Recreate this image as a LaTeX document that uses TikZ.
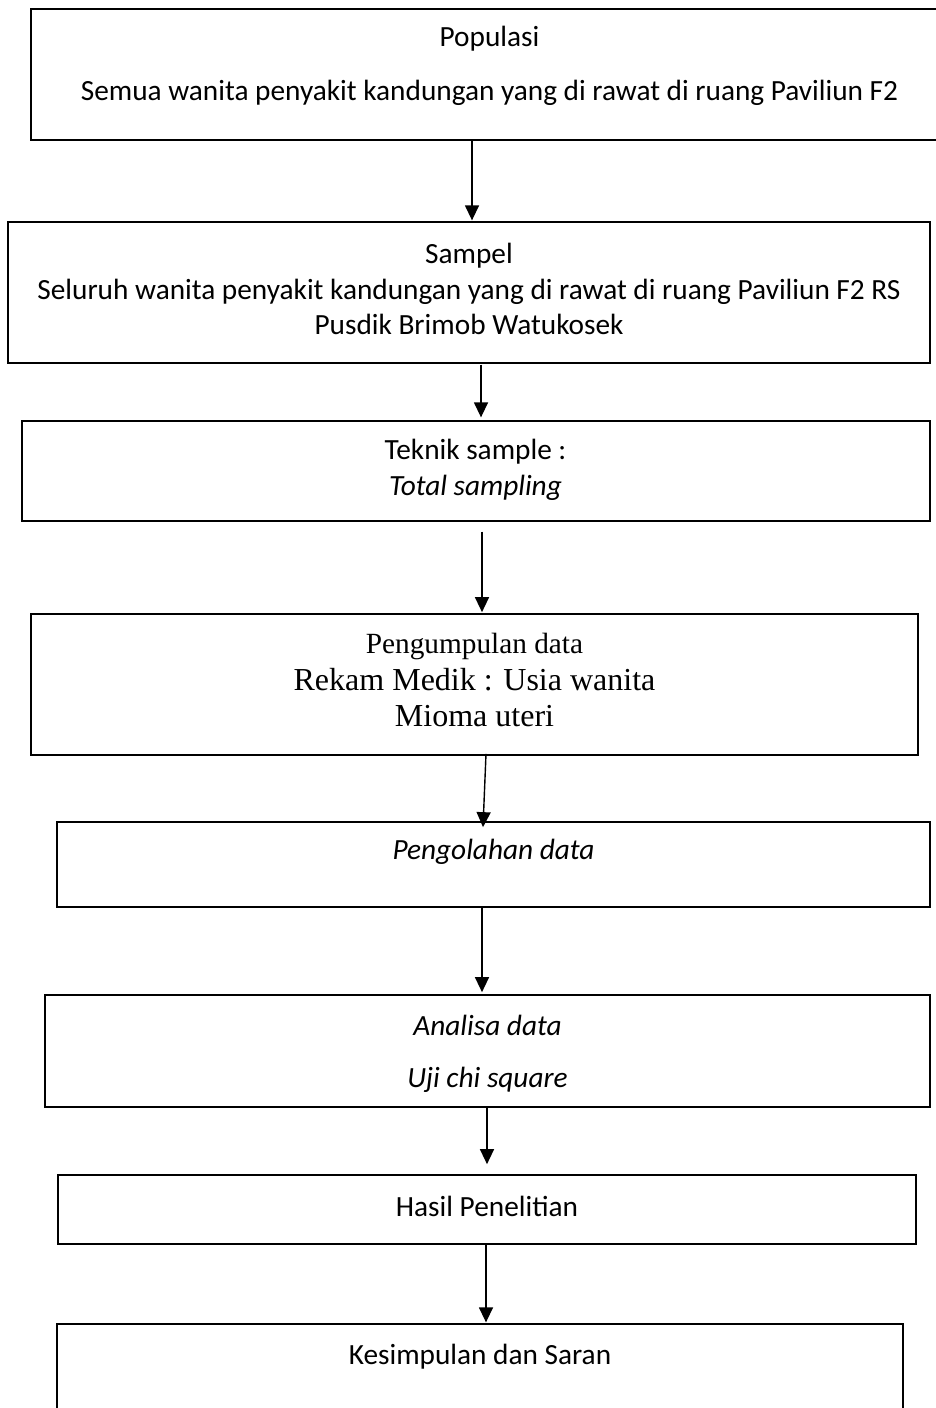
\documentclass[tikz,border=0pt]{standalone}
\usepackage{fontspec}
\setmainfont{Carlito}
\newfontfamily\tnr{Liberation Serif}
\usetikzlibrary{arrows.meta, calc}

\begin{document}
\begin{tikzpicture}[x=1pt,y=-1pt,
  box/.style={draw,line width=1.7pt,inner sep=0pt},
  txt/.style={align=center,inner sep=0pt,font=\fontsize{29.3}{35.7}\selectfont},
  arr/.style={line width=1.4pt,-{Triangle[length=15pt,width=14pt]}}]
  \useasboundingbox (0,0) rectangle (936,1408);
  % boxes
  \node[box,minimum width=917pt,minimum height=131pt] (pop) at (489.5,74.5) {};
  \node[box,line width=1.3pt,minimum width=922pt,minimum height=141pt] (samp) at (469,292.5) {};
  \node[box,line width=1.3pt,minimum width=908pt,minimum height=100pt] (tek) at (476,471) {};
  \node[box,minimum width=887pt,minimum height=141pt] (kum) at (474.5,684.5) {};
  \node[box,minimum width=873pt,minimum height=85pt] (olah) at (493.5,864.5) {};
  \node[box,minimum width=885pt,minimum height=112pt] (ana) at (487.5,1051) {};
  \node[box,minimum width=858pt,minimum height=69pt] (has) at (487,1209.5) {};
  \node[box,line width=1.3pt,minimum width=846pt,minimum height=120pt] (sim) at (480,1384) {};
  % texts
  \node[txt] (popA) at (489.5,39) {Populasi};
  \node[txt] (popB) at (489.5,93) {Semua wanita penyakit kandungan yang di rawat di ruang Paviliun F2};
  \node[txt] (sampT) at (469,289) {Sampel\\Seluruh wanita penyakit kandungan yang di rawat di ruang Paviliun F2 RS\\Pusdik Brimob Watukosek};
  \node[txt] (tekT) at (475.5,470) {Teknik sample :\\\textit{Total sampling}};
  \node[txt,font=\tnr\fontsize{32}{36.8}\selectfont] (kumT) at (474.5,680) {{\fontsize{29.3}{34}\selectfont Pengumpulan data}\\Rekam Medik : Usia wanita\\Mioma uteri};
  \node[txt] (olahT) at (493.5,852) {\textit{Pengolahan data}};
  \node[txt] (anaA) at (487.5,1025) {\textit{Analisa data}};
  \node[txt] (anaB) at (487.5,1080) {\textit{Uji chi square}};
  \node[txt] (hasT) at (487,1206) {Hasil Penelitian};
  \node[txt] (simT) at (480,1357) {Kesimpulan dan Saran};
  % arrows
  \draw[arr] ($(pop.south)+(-17.5,0)$) -- ($(samp.north)+(3,-1)$);
  \draw[arr] ($(samp.south)+(12,1)$) -- ($(tek.north)+(5,-3)$);
  \draw[arr] ($(tek.south)+(6,10)$) -- ($(kum.north)+(7.5,-1)$);
  \draw[arr] ($(kum.south)+(11.5,-2)$) -- ($(olah.north)+(-10.5,6)$);
  \draw[arr] ($(olah.south)+(-11.5,0)$) -- ($(ana.north)+(-5.5,-2)$);
  \draw[arr] ($(ana.south)+(-0.5,0)$) -- ($(has.north)+(0,-10)$);
  \draw[arr] ($(has.south)+(-1,-1)$) -- ($(sim.north)+(6,-1)$);
\end{tikzpicture}
\end{document}
